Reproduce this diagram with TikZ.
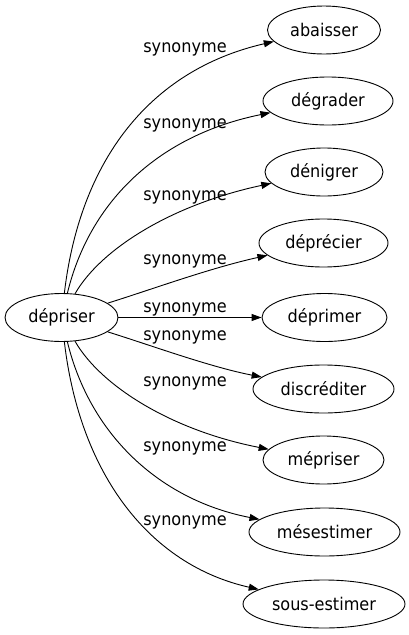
\documentclass[tikz,border=0pt]{standalone}
\usepackage{fontspec}
\setmainfont[FakeStretch=0.92]{DejaVu Sans}
\usepackage{tikz}
\usetikzlibrary{arrows.meta, shapes.geometric}

\begin{document}
\begin{tikzpicture}[x=1pt, y=-1pt,
        word/.style={ellipse, draw, line width=0.9pt, inner sep=0pt, minimum height=48pt, font=\fontsize{17.5}{20}\selectfont},
        syn/.style={-{Triangle[length=10pt,width=7pt]}, line width=0.9pt},
        lbl/.style={anchor=base, inner sep=0pt, font=\fontsize{17.5}{20}\selectfont}]
        \useasboundingbox (0,0) rectangle (409,635);

        \node[word, minimum width=113pt] (dep) at (61.5,317.5) {dépriser};

        \node[word, minimum width=113pt] (aba) at (324,30) {abaisser};
        \node[word, minimum width=130pt] (deg) at (328,101) {dégrader};
        \node[word, minimum width=118pt] (den) at (324,172) {dénigrer};
        \node[word, minimum width=129pt] (depr) at (323.5,243) {déprécier};
        \node[word, minimum width=125pt] (depm) at (324.5,317.5) {déprimer};
        \node[word, minimum width=141pt] (dis) at (323.5,389) {discréditer};
        \node[word, minimum width=121pt] (mep) at (323.5,460) {mépriser};
        \node[word, minimum width=151pt] (mes) at (324.5,532) {mésestimer};
        \node[word, minimum width=162pt] (sou) at (324,604) {sous-estimer};

        \draw[syn] (dep) .. controls (80,160) and (150,70) .. (aba);
        \draw[syn] (dep) .. controls (90,200) and (160,135) .. (deg);
        \draw[syn] (dep) .. controls (100,250) and (170,205) .. (den);
        \draw[syn] (dep) .. controls (150,290) and (210,268) .. (depr);
        \draw[syn] (dep) -- (depm);
        \draw[syn] (dep) .. controls (150,345) and (210,367) .. (dis);
        \draw[syn] (dep) .. controls (100,385) and (170,430) .. (mep);
        \draw[syn] (dep) .. controls (90,435) and (160,500) .. (mes);
        \draw[syn] (dep) .. controls (80,475) and (150,565) .. (sou);

        \node[lbl] (l1) at (185,52) {synonyme};
        \node[lbl] (l2) at (185,128) {synonyme};
        \node[lbl] (l3) at (185,200) {synonyme};
        \node[lbl] (l4) at (185,264) {synonyme};
        \node[lbl] (l5) at (185,312) {synonyme};
        \node[lbl] (l6) at (185,340) {synonyme};
        \node[lbl] (l7) at (185,386.5) {synonyme};
        \node[lbl] (l8) at (185,451.5) {synonyme};
        \node[lbl] (l9) at (185,525) {synonyme};
    \end{tikzpicture}
\end{document}
